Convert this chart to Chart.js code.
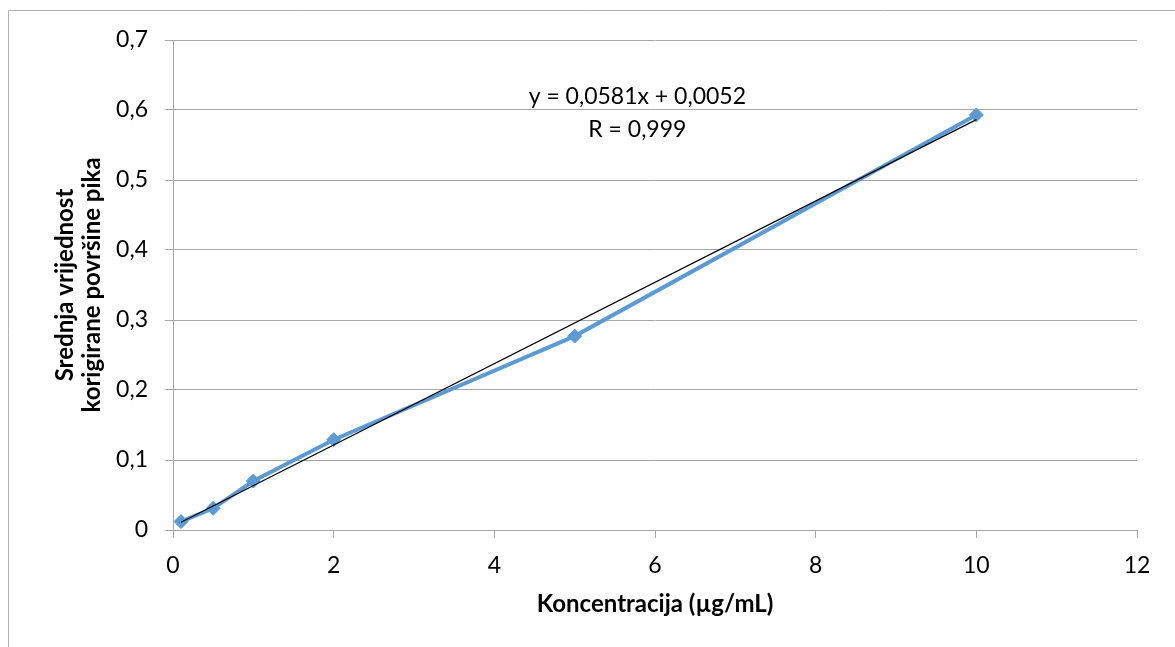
<!DOCTYPE html>
<html>
<head>
<meta charset="utf-8">
<script src="https://cdn.jsdelivr.net/npm/chart.js@4.4.0/dist/chart.umd.min.js"></script>
<style>
    html, body { margin: 0; padding: 0; background: #fff; }
    #wrap { width: 1175px; height: 647px; }
</style>
</head>
<body>
<div id="wrap"><canvas id="calibChart" width="1175" height="647"></canvas></div>
<script>
    // calibration points
    const concentrations = [0.1, 0.5, 1, 2, 5, 10];
    const meanAreas = [0.012, 0.031, 0.070, 0.129, 0.277, 0.593];

    const xTicks = [0, 2, 4, 6, 8, 10, 12];
    const yTicks = [0, 0.1, 0.2, 0.3, 0.4, 0.5, 0.6, 0.7];

    // linear trendline as printed on the chart
    const trendSlope = 0.0581;
    const trendIntercept = 0.0052;
    const equationLines = ['y = 0,0581x + 0,0052', 'R = 0,999'];

    const xTitle = 'Koncentracija (µg/mL)';
    const yTitle = ['Srednja vrijednost', 'korigirane površine pika'];

    const FONT = 'Lato';
    const gridColor = '#a6a6a6';
    const lineBlue = '#5b9bd5';

    const points = concentrations.map((x, i) => ({ x: x, y: meanAreas[i] }));
    const trendX = [concentrations[0], concentrations[concentrations.length - 1]];
    const trendPoints = trendX.map(x => ({ x: x, y: trendSlope * x + trendIntercept }));

    const fmt = v => String(Math.round(v * 10) / 10).replace('.', ',');

    const extras = {
        id: 'extras',
        beforeDraw(chart) {
            const ctx = chart.ctx;
            ctx.save();
            ctx.strokeStyle = '#b0b0b0';
            ctx.lineWidth = 1;
            ctx.beginPath();
            ctx.moveTo(8.5, 647);
            ctx.lineTo(8.5, 10.5);
            ctx.lineTo(1175, 10.5);
            ctx.stroke();
            ctx.restore();
        },
        afterDatasetsDraw(chart) {
            const ctx = chart.ctx;
            const xs = chart.scales.x;
            const cx = xs.getPixelForValue(5.78);
            ctx.save();
            ctx.fillStyle = '#000';
            ctx.font = '23px ' + FONT;
            ctx.textAlign = 'center';
            ctx.textBaseline = 'middle';
            ctx.fillText(equationLines[0], cx, 97);
            ctx.fillText(equationLines[1], cx, 130);
            ctx.restore();
        }
    };

    const ctx = document.getElementById('calibChart').getContext('2d');

    const calibChart = new Chart(ctx, {
        type: 'scatter',
        data: {
            datasets: [
                {
                    label: 'Trend',
                    data: trendPoints,
                    showLine: true,
                    borderColor: '#000',
                    borderWidth: 1.2,
                    pointRadius: 0,
                    order: 0
                },
                {
                    label: 'Srednja vrijednost',
                    data: points,
                    showLine: true,
                    borderColor: lineBlue,
                    backgroundColor: lineBlue,
                    borderWidth: 4,
                    pointStyle: 'rectRot',
                    pointRadius: 7,
                    pointBorderWidth: 1,
                    order: 1
                }
            ]
        },
        options: {
            responsive: false,
            animation: false,
            devicePixelRatio: 1,
            layout: { padding: { top: 40, right: 38, left: 0, bottom: 0 } },
            plugins: {
                legend: { display: false },
                tooltip: { enabled: false }
            },
            scales: {
                x: {
                    type: 'linear',
                    min: 0,
                    max: 12,
                    afterBuildTicks: axis => { axis.ticks = xTicks.map(v => ({ value: v })); },
                    afterFit: axis => { axis.height = 117; },
                    grid: {
                        drawOnChartArea: false,
                        drawTicks: true,
                        tickLength: 8,
                        color: gridColor
                    },
                    border: { color: gridColor },
                    ticks: {
                        padding: 14,
                        color: '#000',
                        font: { family: FONT, size: 23 },
                        callback: v => String(v)
                    },
                    title: {
                        display: true,
                        text: xTitle,
                        color: '#000',
                        font: { family: FONT, size: 24, weight: 'bold' },
                        padding: { top: 0, bottom: 28 }
                    }
                },
                y: {
                    type: 'linear',
                    min: 0,
                    max: 0.7,
                    afterBuildTicks: axis => { axis.ticks = yTicks.map(v => ({ value: v })); },
                    afterFit: axis => { axis.width = 173; },
                    grid: {
                        color: gridColor,
                        tickLength: 8
                    },
                    border: { color: gridColor },
                    ticks: {
                        padding: 17,
                        color: '#000',
                        font: { family: FONT, size: 23 },
                        callback: v => fmt(v)
                    },
                    title: {
                        display: true,
                        text: yTitle,
                        color: '#000',
                        font: { family: FONT, size: 24, weight: 'bold', lineHeight: 1.125 },
                        padding: { top: 52, bottom: 0 }
                    }
                }
            }
        },
        plugins: [extras]
    });
</script>
</body>
</html>
